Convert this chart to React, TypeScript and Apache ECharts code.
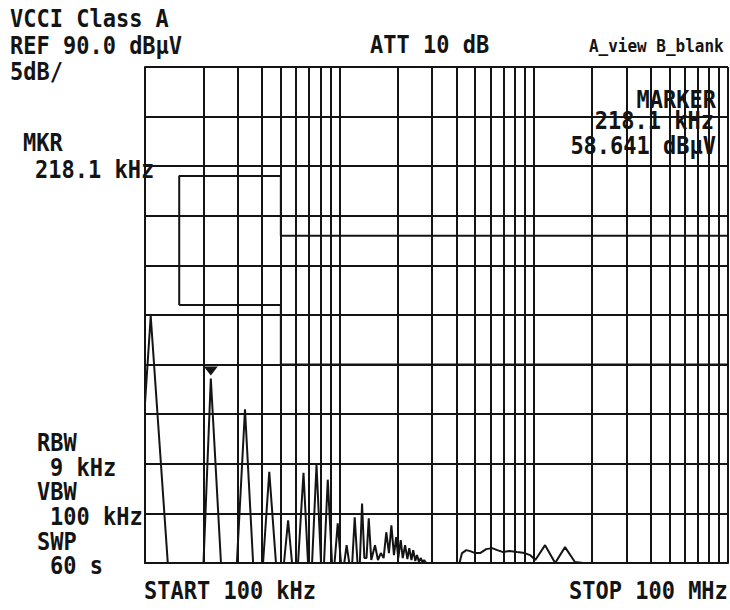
import React, { useEffect, useRef } from 'react';
import * as echarts from 'echarts';

// Spectrum trace (frequency in kHz, level in dBµV)
const traceFreqKHz = [
  100, 107, 131, 200, 218.1, 246, 297, 327, 360, 405, 436, 472, 519, 545, 571,
  613, 654, 690, 724, 763, 805, 834, 872, 917, 945, 981, 1020, 1060, 1090, 1125,
  1165, 1200, 1240, 1275, 1309, 1345, 1380, 1417, 1460, 1526, 1580, 1635, 1690,
  1744, 1800, 1853, 1910, 1962, 2010, 2070, 2120, 2180, 2240, 2290, 2350, 2400,
  2460, 2510, 2570, 2620, 2680, 2730, 2800, 4150, 4280, 4500, 4710, 5000, 5300,
  5700, 6110, 6500, 6960, 7500, 8210, 9000, 9580, 10200, 11450, 12900, 14500,
  16300, 18000, 100000,
];
const traceLevelDb = [
  56.1, 64.9, 40, 40, 58.6, 40, 40, 55.5, 40, 40, 49.2, 40, 40, 44.3, 40,
  40, 49.1, 40, 40, 49.9, 40, 40, 48.4, 40, 40, 44.0, 40, 40, 41.8, 40,
  40, 44.6, 40, 40, 46.0, 40.5, 40.5, 44.5, 40.3, 41.8, 40.3, 41.0, 40.5,
  43.1, 41.0, 43.8, 40.8, 42.6, 40.5, 42.3, 40.5, 41.8, 40.4, 41.5, 40.3, 41.3,
  40.2, 40.8, 40.1, 40.5, 40.1, 40.3, 40, 40, 41.0, 41.3, 41.2, 41.0, 41.0,
  41.4, 41.5, 41.3, 41.1, 41.2, 41.1, 41.0, 40.8, 40.3, 41.8, 40.0, 41.6,
  40.1, 40.0, 40,
];

// VCCI Class A limit lines
const qpLimitFreqKHz = [150, 150, 500, 500, 100000];
const qpLimitDb = [66, 79, 79, 73, 73];
const avLimitFreqKHz = [150, 500, 500, 100000];
const avLimitDb = [66, 66, 60, 60];

// Marker
const markerFreqKHz = 218.1;
const markerLevelDb = 58.641;

// Axis ranges / grid
const startFreqKHz = 100;
const stopFreqKHz = 100000;
const refLevelDb = 90;
const bottomLevelDb = 40;
const dbPerDiv = 5;
const gridFreqKHz = [
  200, 300, 400, 500, 600, 700, 800, 900, 1000,
  2000, 3000, 4000, 5000, 6000, 7000, 8000, 9000, 10000,
  20000, 30000, 40000, 50000, 60000, 70000, 80000, 90000, 100000,
];

// Annotation texts
const headerLeft = ['VCCI Class A', 'REF 90.0 dBµV', '5dB/'];
const attText = 'ATT 10 dB';
const viewText = 'A_view B_blank';
const markerBox = ['MARKER', '218.1 kHz', '58.641 dBµV'];
const mkrLeft = ['MKR', '218.1 kHz'];
const bwLeft = ['RBW', '9 kHz', 'VBW', '100 kHz', 'SWP', '60 s'];
const startText = 'START 100 kHz';
const stopText = 'STOP 100 MHz';

const INK = '#141414';
const FONT_FAMILY = '"DejaVu Sans Mono", monospace';

function txt(text: string, x: number, y: number, align: 'left' | 'right' = 'left', size = 22) {
  return {
    type: 'text',
    x,
    y,
    scaleY: 1.12,
    silent: true,
    z: 100,
    style: {
      text,
      fill: INK,
      fontFamily: FONT_FAMILY,
      fontSize: size,
      fontWeight: 'bold',
      textAlign: align,
      align,
      textVerticalAlign: 'middle',
      verticalAlign: 'middle',
    },
  };
}

export default function App() {
  const ref = useRef<HTMLDivElement>(null);
  useEffect(() => {
    if (!ref.current) return;
    const chart = echarts.init(ref.current, undefined, { renderer: 'svg' });
    const trace = traceFreqKHz.map((f, i) => [f * 1000, traceLevelDb[i]]);
    const qp = qpLimitFreqKHz.map((f, i) => [f * 1000, qpLimitDb[i]]);
    const av = avLimitFreqKHz.map((f, i) => [f * 1000, avLimitDb[i]]);
    const lineStyle = { color: INK, width: 2 };

    const graphics: any[] = [];
    headerLeft.forEach((t, i) => graphics.push(txt(t, 10, 19 + i * 26.5)));
    graphics.push(txt(attText, 370, 45));
    graphics.push(txt(viewText, 589, 46, 'left', 16));
    graphics.push(txt(markerBox[0], 716, 100, 'right'));
    graphics.push(txt(markerBox[1], 714, 121, 'right'));
    graphics.push(txt(markerBox[2], 716, 146, 'right'));
    graphics.push(txt(mkrLeft[0], 23, 143));
    graphics.push(txt(mkrLeft[1], 35, 170));
    const bwY = [443, 468, 492, 517, 542, 566];
    bwLeft.forEach((t, i) => graphics.push(txt(t, i % 2 === 0 ? 37 : 50, bwY[i])));
    graphics.push(txt(startText, 144, 591));
    graphics.push(txt(stopText, 569, 591));

    chart.setOption({
      animation: false,
      backgroundColor: '#ffffff',
      grid: { left: 145, top: 67, width: 583, height: 496, containLabel: false },
      xAxis: {
        type: 'log',
        logBase: 10,
        min: startFreqKHz * 1000,
        max: stopFreqKHz * 1000,
        axisLine: { show: true, lineStyle },
        axisTick: { show: false },
        axisLabel: { show: false },
        splitLine: { show: false },
      },
      yAxis: {
        type: 'value',
        min: bottomLevelDb,
        max: refLevelDb,
        interval: dbPerDiv,
        axisLine: { show: true, lineStyle },
        axisTick: { show: false },
        axisLabel: { show: false },
        splitLine: { show: true, lineStyle },
      },
      series: [
        {
          type: 'line',
          name: 'AV limit',
          data: av,
          symbol: 'none',
          lineStyle,
          silent: true,
          markLine: {
            silent: true,
            symbol: 'none',
            label: { show: false },
            lineStyle: { color: INK, width: 2, type: 'solid' },
            data: gridFreqKHz.map((f) => ({ xAxis: f * 1000 })),
          },
        },
        {
          type: 'line',
          name: 'QP limit',
          data: qp,
          symbol: 'none',
          lineStyle,
          silent: true,
        },
        {
          type: 'line',
          name: 'Trace',
          data: trace,
          symbol: 'none',
          clip: true,
          lineStyle: { color: INK, width: 2 },
          silent: true,
          z: 5,
          markPoint: {
            silent: true,
            data: [
              {
                coord: [markerFreqKHz * 1000, markerLevelDb],
                symbol: 'triangle',
                symbolRotate: 180,
                symbolSize: [14, 9],
                symbolOffset: [0, -7],
                itemStyle: { color: INK },
                label: { show: false },
              },
            ],
          },
        },
      ],
      graphic: graphics,
    });
    return () => chart.dispose();
  }, []);
  return (
    <div
      ref={ref}
      style={{ position: 'fixed', left: 0, top: 0, width: 730, height: 610, background: '#fff' }}
    />
  );
}
